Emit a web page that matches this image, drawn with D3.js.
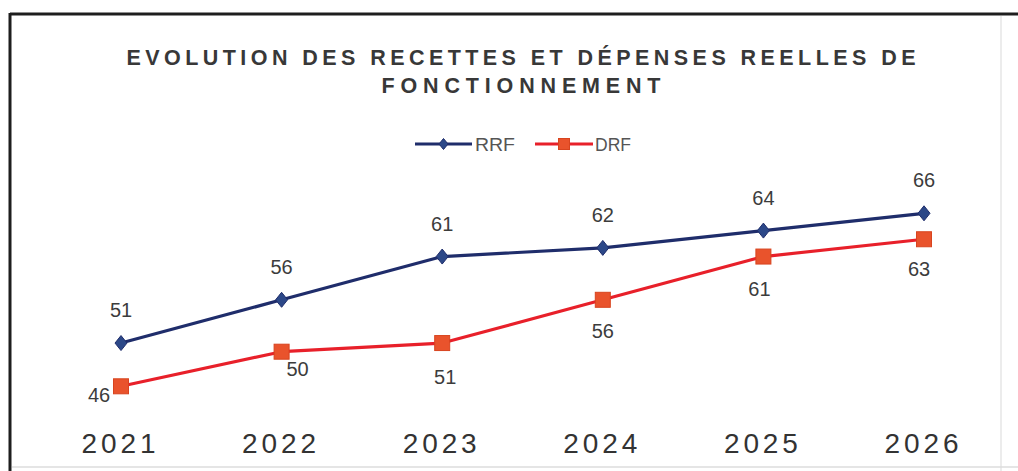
<!DOCTYPE html>
<html>
<head>
<meta charset="utf-8">
<script src="https://cdn.jsdelivr.net/npm/d3@7"></script>
<style>
  html, body { margin: 0; padding: 0; background: #fff; }
  svg { display: block; }
  text { font-family: "Liberation Sans", Arial, sans-serif; }
</style>
</head>
<body>
<svg id="chart" width="1018" height="471"></svg>
<script>
// Data
const years = ["2021", "2022", "2023", "2024", "2025", "2026"];
const rrf = [51, 56, 61, 62, 64, 66];
const drf = [46, 50, 51, 56, 61, 63];
const seriesNames = ["RRF", "DRF"];
const titleLines = ["EVOLUTION DES RECETTES ET DÉPENSES REELLES DE", "FONCTIONNEMENT"];

// Label placement tweaks for the DRF value labels (dx, dy of label centre from the point)
const drfLabelNudge = [[-22, 8], [16, 17], [3, 33], [0, 31], [-4, 32], [-5, 29]];

const W = 1018, H = 471;
const svg = d3.select("#chart");

const colRRF = "#1f2d6b", colRRFMarker = "#2c4888";
const colDRF = "#e8202a", colDRFMarker = "#e9532c";
const textCol = "#3c3c3c";

// Frame
svg.append("rect").attr("x", 0).attr("y", 0).attr("width", W).attr("height", H).attr("fill", "#fff");
svg.append("line").attr("x1", 10).attr("x2", W).attr("y1", 14).attr("y2", 14)
  .attr("stroke", "#1e1e1e").attr("stroke-width", 3);
svg.append("line").attr("x1", 10).attr("x2", 10).attr("y1", 13).attr("y2", H)
  .attr("stroke", "#1e1e1e").attr("stroke-width", 3);
svg.append("line").attr("x1", 1001).attr("x2", 1001).attr("y1", 16).attr("y2", H)
  .attr("stroke", "#e6e6e6").attr("stroke-width", 1.5);
svg.append("line").attr("x1", 12).attr("x2", W).attr("y1", 467).attr("y2", 467)
  .attr("stroke", "#dcdcdc").attr("stroke-width", 1.5);

// Title
const titleSpecs = [{ y: 65, len: 789 }, { y: 93, len: 279 }];
titleLines.forEach((t, i) => {
  svg.append("text")
    .attr("x", 521).attr("y", titleSpecs[i].y)
    .attr("text-anchor", "middle")
    .attr("font-size", 21.5).attr("font-weight", "bold")
    .attr("fill", "#383838")
    .attr("textLength", titleSpecs[i].len).attr("lengthAdjust", "spacing")
    .text(t);
});

// Scales
const x = d3.scalePoint().domain(years).range([121, 924]);
const y = d3.scaleLinear().domain([40, 70]).range([438.2, 178.7]);

// X axis (labels only)
const xAxis = d3.axisBottom(x).tickSize(0).tickPadding(0);
const gx = svg.append("g").attr("transform", "translate(-3,0)").call(xAxis);
gx.select(".domain").remove();
gx.selectAll("text")
  .attr("y", 453).attr("dy", null)
  .attr("font-size", 28).attr("fill", "#333")
  .attr("font-family", "Liberation Sans, Arial, sans-serif")
  .attr("textLength", 74).attr("lengthAdjust", "spacing");

// Lines
const line = d3.line().x((d, i) => x(years[i])).y(d => y(d));
svg.append("path").datum(rrf).attr("d", line)
  .attr("fill", "none").attr("stroke", colRRF).attr("stroke-width", 3.2).attr("stroke-linejoin", "round");
svg.append("path").datum(drf).attr("d", line)
  .attr("fill", "none").attr("stroke", colDRF).attr("stroke-width", 3.2).attr("stroke-linejoin", "round");

// Markers
const diamond = (cx, cy, w, h) => `M${cx},${cy - h / 2}L${cx + w / 2},${cy}L${cx},${cy + h / 2}L${cx - w / 2},${cy}Z`;
svg.append("g").selectAll("path").data(rrf).join("path")
  .attr("d", (d, i) => diamond(x(years[i]), y(d), 12, 15))
  .attr("fill", colRRFMarker).attr("stroke", colRRF).attr("stroke-width", 1);
svg.append("g").selectAll("rect").data(drf).join("rect")
  .attr("x", (d, i) => x(years[i]) - 7.5).attr("y", d => y(d) - 7.5)
  .attr("width", 15).attr("height", 15)
  .attr("fill", colDRFMarker).attr("stroke", "#d8441f").attr("stroke-width", 1);

// Value labels
svg.append("g").selectAll("text").data(rrf).join("text")
  .attr("x", (d, i) => x(years[i]))
  .attr("y", d => y(d) - 26)
  .attr("text-anchor", "middle").attr("font-size", 20).attr("fill", textCol)
  .text(d => d);
svg.append("g").selectAll("text").data(drf).join("text")
  .attr("x", (d, i) => x(years[i]) + drfLabelNudge[i][0])
  .attr("y", (d, i) => y(d) + drfLabelNudge[i][1] + 7.5)
  .attr("text-anchor", "middle").attr("font-size", 20).attr("fill", textCol)
  .text(d => d);

// Legend
const legend = svg.append("g");
const legendItems = [
  { name: seriesNames[0], x0: 415, x1: 472, color: colRRF, marker: "diamond", tx: 475 },
  { name: seriesNames[1], x0: 535, x1: 593, color: colDRF, marker: "square", tx: 595 }
];
const ly = 144;
legendItems.forEach(it => {
  legend.append("line").attr("x1", it.x0).attr("x2", it.x1).attr("y1", ly).attr("y2", ly)
    .attr("stroke", it.color).attr("stroke-width", 3.2);
  const cx = (it.x0 + it.x1) / 2;
  if (it.marker === "diamond") {
    legend.append("path").attr("d", diamond(cx, ly, 9, 11))
      .attr("fill", colRRFMarker).attr("stroke", colRRF);
  } else {
    legend.append("rect").attr("x", cx - 5.5).attr("y", ly - 5.5).attr("width", 11).attr("height", 11)
      .attr("fill", colDRFMarker).attr("stroke", "#d8441f");
  }
  legend.append("text").attr("x", it.tx).attr("y", ly + 7)
    .attr("font-size", 19).attr("fill", "#555")
    .attr("textLength", it.name === "RRF" ? 40 : 36).attr("lengthAdjust", "spacingAndGlyphs")
    .text(it.name);
});
</script>
</body>
</html>
